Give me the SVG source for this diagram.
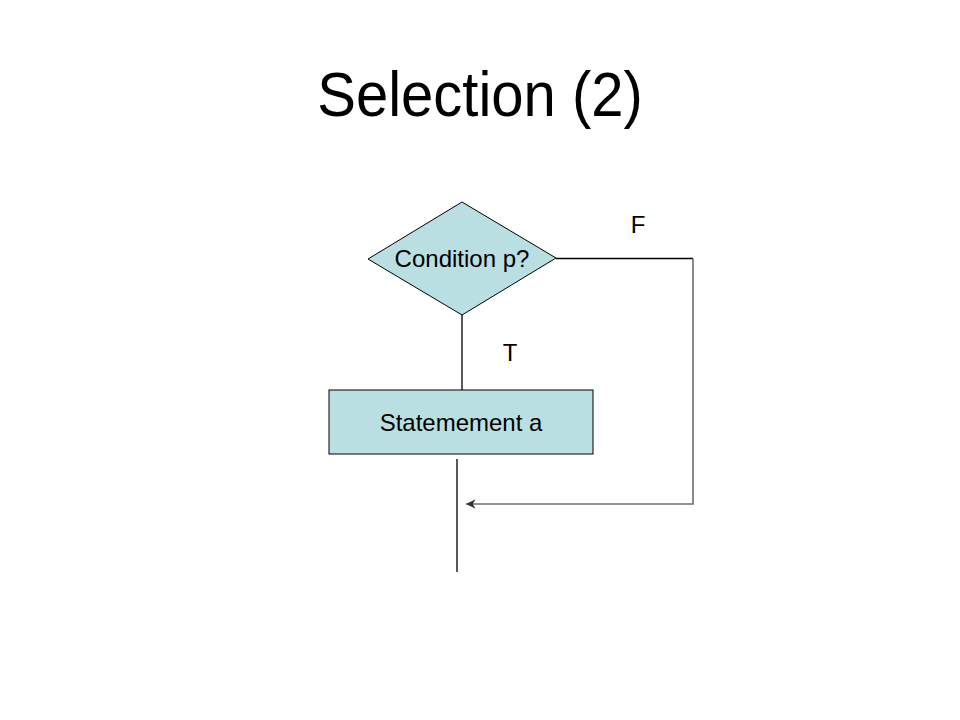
<svg xmlns="http://www.w3.org/2000/svg" width="960" height="720" viewBox="0 0 960 720">
<defs>
<style>
text{font-family:"Liberation Sans",Arial,sans-serif;fill:#000}
.lbl{font-size:24px;text-anchor:middle}
.shape{fill:#b9dfe3;stroke:#000;stroke-width:1}
.ln{fill:none;stroke:#000;stroke-width:1.3}
.gl{fill:none;stroke:#6e6e6e;stroke-width:1.6}
</style>
<marker id="arr" viewBox="0 0 10 10" refX="10" refY="5" markerWidth="6" markerHeight="6" orient="auto-start-reverse">
<path d="M0,0 L10,5 L0,10 L3,5 Z" fill="#333"/>
</marker>
</defs>
<rect width="960" height="720" fill="#fff"/>
<text x="480" y="116" font-size="58" text-anchor="middle" transform="translate(0,116) scale(1,1.09) translate(0,-116)">Selection (2)</text>
<g id="connectors">
<line class="ln" x1="462" y1="315" x2="462" y2="390"/>
<line class="ln" x1="457" y1="459" x2="457" y2="572"/>
<polyline class="ln" points="556,258.5 693,258.5"/>
<polyline class="gl" points="693,258.5 693,504 466,504" marker-end="url(#arr)"/>
<text class="lbl" x="638" y="233">F</text>
<text class="lbl" x="510" y="361">T</text>
</g>
<g id="condition">
<polygon class="shape" points="368,259 462,202 556,258 462,315"/>
<text class="lbl" x="462" y="267">Condition p?</text>
</g>
<g id="statement">
<rect class="shape" x="329" y="390" width="264" height="64"/>
<text class="lbl" x="461" y="431">Statemement a</text>
</g>
</svg>
